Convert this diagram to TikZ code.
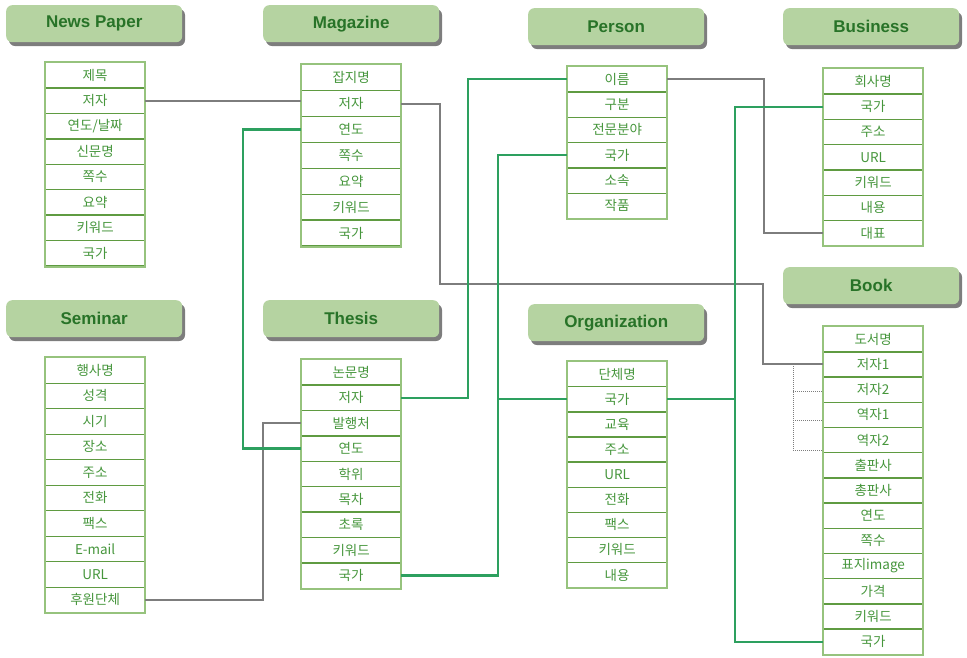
\documentclass[tikz,border=0pt]{standalone}
\usepackage{fontspec}
\setmainfont{Liberation Sans}
\newfontfamily\kr{Noto Sans CJK KR}
\definecolor{hdrfill}{RGB}{181,211,161}
\definecolor{hdrtext}{RGB}{40,115,40}
\definecolor{shadowgray}{RGB}{125,125,125}
\definecolor{celldraw}{RGB}{95,155,65}
\definecolor{framecol}{RGB}{150,195,125}
\definecolor{celltext}{RGB}{70,150,60}
\definecolor{lgreen}{RGB}{45,160,95}
\definecolor{lgray}{RGB}{125,125,125}
\tikzset{
  hdr/.style={rounded corners=6pt, fill=hdrfill, minimum width=176pt, minimum height=37pt,
    anchor=north west, font=\fontsize{17}{17}\selectfont\bfseries, text=hdrtext, inner sep=0},
  cell/.style={draw=celldraw, line width=1.3pt, fill=white, text=celltext, anchor=north west,
    minimum width=99pt, inner sep=0, font=\kr\fontsize{13.5}{13.5}\selectfont},
  frame/.style={draw=framecol, line width=2pt},
  gline/.style={draw=lgreen, line width=2.2pt},
  kline/.style={draw=lgray, line width=2pt},
  dline/.style={draw=lgray, line width=1pt, densely dotted},
}
\newcommand\hdrbox[4]{%
  \fill[shadowgray, rounded corners=6pt] (#2+3,#3+4) rectangle ++(176,37);
  \node[hdr] (#1) at (#2,#3) {#4};}
\newcommand\tbl[6]{%
  \foreach \t [count=\i] in {#5} {
    \node[cell, minimum height=#4pt] (#1\i) at (#2, #3+#4*\i-#4) {\t};
  }
  \draw[frame] (#11.north west) rectangle (#1#6.south east);}
\begin{document}
\begin{tikzpicture}[x=1pt,y=-1pt]
\useasboundingbox (0,0) rectangle (967,657);
% headers
\hdrbox{hn}{6}{5}{News Paper}
\hdrbox{hm}{263}{5}{Magazine}
\hdrbox{hp}{528}{8}{Person}
\hdrbox{hb}{783}{8}{Business}
\hdrbox{hs}{6}{300}{Seminar}
\hdrbox{ht}{263}{300}{Thesis}
\hdrbox{ho}{528}{304}{Organization}
\hdrbox{hk}{783}{267}{Book}
% tables
\tbl{n}{45}{62}{25.4}{제목,저자,연도/날짜,신문명,쪽수,요약,키워드,국가}{8}
\tbl{m}{301}{64}{25.9}{잡지명,저자,연도,쪽수,요약,키워드,국가}{7}
\tbl{p}{567}{66}{25.3}{이름,구분,전문분야,국가,소속,작품}{6}
\tbl{z}{823}{68}{25.3}{회사명,국가,주소,URL,키워드,내용,대표}{7}
\tbl{s}{45}{357}{25.5}{행사명,성격,시기,장소,주소,전화,팩스,E-mail,URL,후원단체}{10}
\tbl{t}{301}{359}{25.4}{논문명,저자,발행처,연도,학위,목차,초록,키워드,국가}{9}
\tbl{o}{567}{361}{25.1}{단체명,국가,교육,주소,URL,전화,팩스,키워드,내용}{9}
\tbl{b}{823}{326}{25.2}{도서명,저자1,저자2,역자1,역자2,출판사,총판사,연도,쪽수,표지image,가격,키워드,국가}{13}
% routing coordinates
\coordinate (g1) at (440,284);
\coordinate (g2) at (763,284);
\coordinate (g3) at (764,0);
\coordinate (g4) at (243,0);
\coordinate (g5) at (468,0);
\coordinate (g6) at (498,0);
\coordinate (g7) at (735,0);
\coordinate (g8) at (263,0);
\coordinate (g9) at (793,0);
% gray connectors
\draw[kline] (n2.east) -- (n2.east -| m2.west);
\draw[kline] (m2.east) -| (g1) -- (g2) |- (b2.west);
\draw[kline] (p1.east) -- (p1.east -| g3) |- (z7.west);
\draw[kline] (s10.east) -- (s10.east -| g8) |- (t3.west);
% green connectors
\draw[gline] (m3.west) -- (m3.west -| g4) |- (t4.west);
\draw[gline] (t2.east) -- (t2.east -| g5) |- (p1.west);
\draw[gline] (t9.east) -- (t9.east -| g6) |- (p4.west);
\draw[gline] (o2.west) -- (o2.west -| g6);
\draw[gline] (o2.east) -- (o2.east -| g7);
\draw[gline] (z2.west) -- (z2.west -| g7) -- (b13.west -| g7) -- (b13.west);
% dotted bracket
\draw[dline] (b2.west -| g9) -- ([yshift=-10pt]b5.west -| g9);
\draw[dline] ([yshift=-2pt]b3.west -| g9) -- ([yshift=-2pt]b3.west);
\draw[dline] ([yshift=-6pt]b4.west -| g9) -- ([yshift=-6pt]b4.west);
\draw[dline] ([yshift=-10pt]b5.west -| g9) -- ([yshift=-10pt]b5.west);
\end{tikzpicture}
\end{document}
